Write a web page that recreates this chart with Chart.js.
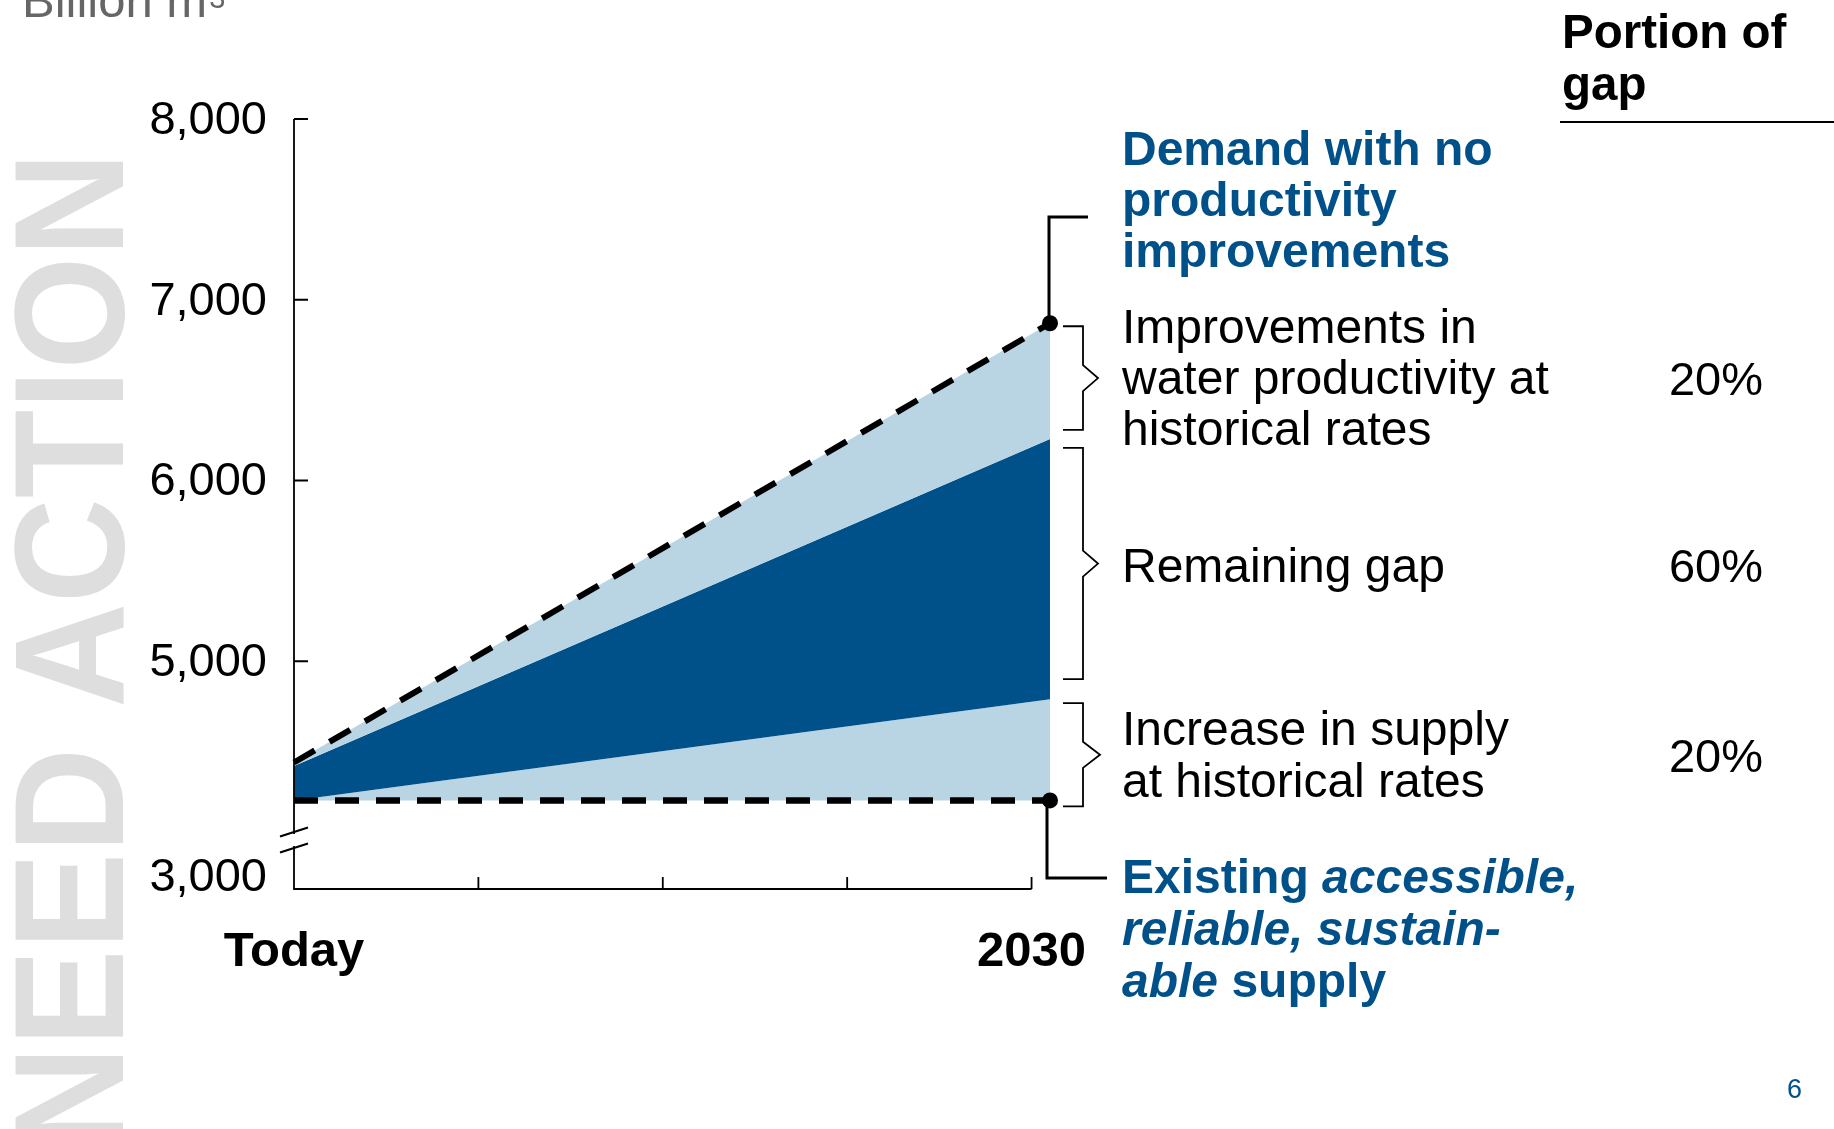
<!DOCTYPE html>
<html>
<head>
<meta charset="utf-8">
<script src="https://cdn.jsdelivr.net/npm/chart.js@4.4.0/dist/chart.umd.min.js"></script>
<style>
  html, body { margin: 0; padding: 0; background: #fff; }
  #wrap { width: 1834px; height: 1129px; position: relative; }
</style>
</head>
<body>
<div id="wrap"><canvas id="chart"></canvas></div>
<script>
// Billion m3 -- Today and 2030
const periods = [0, 4.1];
const xTickValues = [0, 1, 2, 3, 4];
const xTickLabels = ['Today', '', '', '', '2030'];
const yTickValues = [5000, 6000, 7000, 8000];
const yBreakLabel = '3,000';
const yFloor = 3740;   // axis is broken below 5,000

const demand       = [4440, 6870];   // no productivity improvements
const productivity = [4420, 6230];   // after productivity gains at historical rates
const supplyGrowth = [4230, 4790];   // supply increase at historical rates
const supply       = [4230, 4230];   // existing accessible, reliable, sustainable supply

const gapShares = ['20%', '60%', '20%'];

const DARK = '#00508a';
const LIGHT = '#b9d5e4';
const FONT = '"Liberation Sans", Arial, Helvetica, sans-serif';
Chart.defaults.font.family = FONT;

const pts = arr => periods.map((x, i) => ({ x: x, y: arr[i] }));

function drawBrace(ctx, yTop, yBot, x0, x1, tip) {
  const mid = (yTop + yBot) / 2;
  ctx.beginPath();
  ctx.moveTo(x0, yTop);
  ctx.lineTo(x1, yTop);
  ctx.lineTo(x1, mid - 13);
  ctx.lineTo(tip, mid);
  ctx.lineTo(x1, mid + 13);
  ctx.lineTo(x1, yBot);
  ctx.lineTo(x0, yBot);
  ctx.stroke();
}

function drawRuns(ctx, runs, x, y) {
  let cx = x;
  runs.forEach(r => {
    ctx.font = r[1] + ' 48px ' + FONT;
    ctx.fillText(r[0], cx, y);
    cx += ctx.measureText(r[0]).width;
  });
}

const decorations = {
  id: 'decorations',
  afterDraw(chart) {
    const ctx = chart.ctx;
    const { left, bottom } = chart.chartArea;
    const xs = chart.scales.x, ys = chart.scales.y;
    ctx.save();

    // watermark
    ctx.save();
    ctx.translate(123, 152);
    ctx.rotate(-Math.PI / 2);
    ctx.scale(1, 1.07);
    ctx.fillStyle = '#dedede';
    ctx.font = 'bold 145px ' + FONT;
    ctx.textAlign = 'right';
    ctx.textBaseline = 'alphabetic';
    ctx.fillText('NEED ACTION', 0, 0);
    ctx.restore();

    // axes
    ctx.strokeStyle = '#000';
    ctx.lineWidth = 1.8;
    const yTopPix = ys.getPixelForValue(yTickValues[yTickValues.length - 1]);
    const brkA = bottom - 57, brkB = bottom - 41;
    ctx.beginPath();
    ctx.moveTo(left, yTopPix); ctx.lineTo(left, brkA + 2);
    ctx.moveTo(left, brkB - 2); ctx.lineTo(left, bottom);
    ctx.lineTo(xs.getPixelForValue(xTickValues[xTickValues.length - 1]), bottom);
    yTickValues.forEach(v => {
      const p = ys.getPixelForValue(v);
      ctx.moveTo(left, p); ctx.lineTo(left + 14, p);
    });
    xTickValues.slice(1).forEach(v => {
      const p = xs.getPixelForValue(v);
      ctx.moveTo(p, bottom); ctx.lineTo(p, bottom - 12);
    });
    ctx.stroke();

    // axis break
    ctx.lineWidth = 2.2;
    ctx.beginPath();
    [brkA, brkB].forEach(y => {
      ctx.moveTo(left - 14, y + 4.5); ctx.lineTo(left + 14, y - 4.5);
    });
    ctx.stroke();

    ctx.fillStyle = '#000';
    ctx.font = '47px ' + FONT;
    ctx.textAlign = 'right';
    ctx.textBaseline = 'middle';
    ctx.fillText(yBreakLabel, left - 27, bottom - 11);

    // callouts from the 2030 end points
    const last = periods.length - 1;
    const xEnd = xs.getPixelForValue(periods[last]);
    const pDemand = ys.getPixelForValue(demand[last]);
    const pProd = ys.getPixelForValue(productivity[last]);
    const pGrowth = ys.getPixelForValue(supplyGrowth[last]);
    const pSupply = ys.getPixelForValue(supply[last]);
    ctx.lineWidth = 3;
    ctx.beginPath();
    ctx.moveTo(xEnd - 1, pDemand); ctx.lineTo(xEnd - 1, 217); ctx.lineTo(1088, 217);
    ctx.moveTo(xEnd - 3, pSupply); ctx.lineTo(xEnd - 3, 878); ctx.lineTo(1107, 878);
    ctx.stroke();

    // braces for the three parts of the gap
    ctx.lineWidth = 1.8;
    drawBrace(ctx, pDemand + 3, pProd - 9, 1063, 1083, 1098);
    drawBrace(ctx, pProd + 9, pGrowth - 20, 1063, 1083, 1098);
    drawBrace(ctx, pGrowth + 4, pSupply + 6, 1063, 1083, 1100);

    // right-hand labels
    ctx.textAlign = 'left';
    ctx.textBaseline = 'alphabetic';
    const tx = 1122;
    ctx.fillStyle = DARK;
    ctx.font = 'bold 48px ' + FONT;
    ['Demand with no', 'productivity', 'improvements'].forEach((s, i) => ctx.fillText(s, tx, 165 + i * 51));

    ctx.fillStyle = '#000';
    ctx.font = '48px ' + FONT;
    ['Improvements in', 'water productivity at', 'historical rates'].forEach((s, i) => ctx.fillText(s, tx, 343 + i * 51));
    ctx.fillText('Remaining gap', tx, 582);
    ['Increase in supply', 'at historical rates'].forEach((s, i) => ctx.fillText(s, tx, 745 + i * 52));

    ctx.fillStyle = DARK;
    drawRuns(ctx, [['Existing ', 'bold'], ['accessible,', 'italic bold']], tx, 893);
    drawRuns(ctx, [['reliable, sustain-', 'italic bold']], tx, 945);
    drawRuns(ctx, [['able', 'italic bold'], [' supply', 'bold']], tx, 997);

    // portion of gap column
    ctx.fillStyle = '#000';
    ctx.font = 'bold 47.5px ' + FONT;
    ctx.fillText('Portion of', 1562, 48);
    ctx.fillText('gap', 1562, 100);
    ctx.lineWidth = 2;
    ctx.beginPath();
    ctx.moveTo(1560, 122); ctx.lineTo(1834, 122);
    ctx.stroke();

    ctx.font = '47px ' + FONT;
    ctx.textAlign = 'right';
    [395, 582, 772].forEach((y, i) => ctx.fillText(gapShares[i], 1763, y));

    // unit and page number
    ctx.textAlign = 'left';
    ctx.fillStyle = '#666';
    ctx.font = '49px ' + FONT;
    ctx.fillText('Billion m', 22, 17);
    const w = ctx.measureText('Billion m').width;
    ctx.font = '29px ' + FONT;
    ctx.fillText('3', 22 + w + 2, 8);

    ctx.fillStyle = DARK;
    ctx.font = '27px ' + FONT;
    ctx.textAlign = 'right';
    ctx.fillText('6', 1802, 1098);

    ctx.restore();
  }
};

new Chart(document.getElementById('chart'), {
  type: 'line',
  data: {
    datasets: [
      { data: pts(demand), borderColor: '#000', borderWidth: 6, borderDash: [24, 17],
        backgroundColor: LIGHT, fill: '+1', pointRadius: [0, 8], pointBackgroundColor: '#000',
        pointBorderWidth: 0, clip: false },
      { data: pts(productivity), borderWidth: 0, backgroundColor: DARK, fill: '+1', pointRadius: 0 },
      { data: pts(supplyGrowth), borderWidth: 0, backgroundColor: LIGHT, fill: '+1', pointRadius: 0 },
      { data: pts(supply), borderColor: '#000', borderWidth: 6.5, borderDash: [24, 17],
        fill: false, pointRadius: [0, 8], pointBackgroundColor: '#000', pointBorderWidth: 0, clip: false }
    ]
  },
  options: {
    responsive: true,
    maintainAspectRatio: false,
    animation: false,
    layout: { padding: { top: 119, right: 784, bottom: 0, left: 0 } },
    plugins: {
      legend: { display: false },
      tooltip: { enabled: false },
      filler: { drawTime: 'beforeDatasetsDraw' }
    },
    scales: {
      x: {
        type: 'linear',
        min: periods[0],
        max: periods[periods.length - 1],
        afterBuildTicks: s => { s.ticks = xTickValues.map(v => ({ value: v })); },
        afterFit: s => { s.height = 240; },
        grid: { display: false, drawTicks: false },
        border: { display: false },
        ticks: {
          padding: 34, autoSkip: false, maxRotation: 0, color: '#000',
          font: { size: 49, weight: 'bold' },
          callback: v => xTickLabels[xTickValues.indexOf(v)]
        }
      },
      y: {
        type: 'linear',
        min: yFloor,
        max: 8000,
        afterBuildTicks: s => { s.ticks = yTickValues.map(v => ({ value: v })); },
        afterFit: s => { s.width = 294; },
        grid: { display: false, drawTicks: false },
        border: { display: false },
        ticks: {
          padding: 27, labelOffset: 2, color: '#000', font: { size: 47 },
          callback: v => v.toLocaleString('en-US')
        }
      }
    }
  },
  plugins: [decorations]
});
</script>
</body>
</html>
